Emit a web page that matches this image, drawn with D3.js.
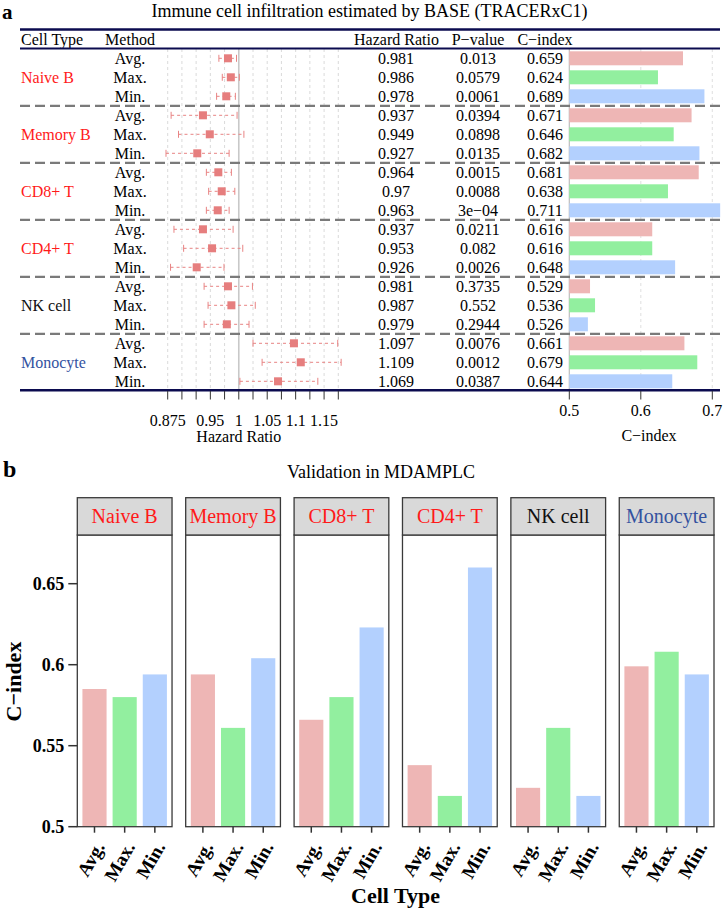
<!DOCTYPE html>
<html><head><meta charset="utf-8">
<script src="https://cdn.jsdelivr.net/npm/d3@7"></script>
<style>body{margin:0;background:#fff} svg text{font-family:"Liberation Serif","DejaVu Serif","Times New Roman",serif}</style>
</head><body><svg id="c" width="725" height="912" font-family="Liberation Serif, DejaVu Serif, serif"></svg>
<script>
// ---------- DATA ----------
const cellTypes = ["Naive B","Memory B","CD8+ T","CD4+ T","NK cell","Monocyte"];
const methods = ["Avg.","Max.","Min."];
const hazardRatio = [0.981,0.986,0.978, 0.937,0.949,0.927, 0.964,0.97,0.963, 0.937,0.953,0.926, 0.981,0.987,0.979, 1.097,1.109,1.069];
const hrLower = [0.965,0.971,0.961, 0.881,0.894,0.872, 0.943,0.947,0.943, 0.886,0.903,0.880, 0.939,0.946,0.939, 1.025,1.041,1.002];
const hrUpper = [0.996,1.001,0.994, 0.997,1.009,0.983, 0.987,0.993,0.983, 0.990,1.007,0.974, 1.024,1.029,1.018, 1.174,1.180,1.139];
const pValue = ["0.013","0.0579","0.0061","0.0394","0.0898","0.0135","0.0015","0.0088","3e\u221204","0.0211","0.082","0.0026","0.3735","0.552","0.2944","0.0076","0.0012","0.0387"];
const cIndexTrain = [0.659,0.624,0.689, 0.671,0.646,0.682, 0.681,0.638,0.711, 0.616,0.616,0.648, 0.529,0.536,0.526, 0.661,0.679,0.644];
const cIndexValid = [0.585,0.580,0.594, 0.594,0.561,0.604, 0.566,0.580,0.623, 0.538,0.519,0.660, 0.524,0.561,0.519, 0.599,0.608,0.594];
const hrTicks = [0.875,0.9,0.925,0.95,0.975,1,1.025,1.05,1.075,1.1,1.125,1.15,1.175];
const hrTickLabels = [0.875,0.95,1,1.05,1.1,1.15];
const cTicks = [0.5,0.6,0.7];
const validTicks = [0.5,0.55,0.6,0.65];

// ---------- STYLE ----------
const labelColor = {"Naive B":"#FF1A1A","Memory B":"#FF1A1A","CD8+ T":"#FF1A1A","CD4+ T":"#FF1A1A","NK cell":"#111","Monocyte":"#34529F"};
const methodFill = {"Avg.":"#EEB6B5","Max.":"#92EF9F","Min.":"#B3D0FE"};
const navy = "#0B0B4F";

const svg = d3.select("#c");
const fmtHR = d => String(d);

// ---------- PANEL A ----------
svg.append("text").attr("x",2).attr("y",19).attr("font-weight","bold").attr("font-size",21).text("a");
svg.append("text").attr("x",369.5).attr("y",16.5).attr("text-anchor","middle").attr("font-size",18)
  .text("Immune cell infiltration estimated by BASE (TRACERxC1)");

const nRows = cellTypes.length*methods.length;
const yRow = d3.scaleBand().domain(d3.range(nRows)).range([48.8, 390.8]);
const rc = i => yRow(i) + yRow.bandwidth()/2;
const xHR = d3.scaleLinear().domain([0.875,1.175]).range([167.7,338.3]);
const xC = d3.scaleLinear().domain([0.5,0.7]).range([569.3,712.3]);

const gA = svg.append("g");
gA.selectAll("line.hg").data(hrTicks.filter(t=>t!==1)).join("line")
  .attr("x1",d=>xHR(d)).attr("x2",d=>xHR(d)).attr("y1",49).attr("y2",390)
  .attr("stroke","#d0d0d0").attr("stroke-width",0.8).attr("stroke-dasharray","3,3");
gA.append("line").attr("x1",xHR(1)).attr("x2",xHR(1)).attr("y1",49).attr("y2",390)
  .attr("stroke","#c8c8c8").attr("stroke-width",1.6);
gA.selectAll("line.cg").data(cTicks.slice(1)).join("line")
  .attr("x1",d=>xC(d)).attr("x2",d=>xC(d)).attr("y1",49).attr("y2",390)
  .attr("stroke","#d8d8d8").attr("stroke-width",0.8).attr("stroke-dasharray","3,3");
gA.append("line").attr("x1",xC(0.5)).attr("x2",xC(0.5)).attr("y1",49).attr("y2",390)
  .attr("stroke","#bdbdbd").attr("stroke-width",1.2);

const hdrY = 45;
[["Cell Type",21,"start"],["Method",130,"middle"],["Hazard Ratio",396.5,"middle"],["P\u2212value",478,"middle"],["C\u2212index",545,"middle"]]
  .forEach(([t,x,a])=>gA.append("text").attr("x",x).attr("y",hdrY).attr("text-anchor",a).attr("font-size",16).text(t));

const rows = d3.range(nRows).map(i=>({i, g:Math.floor(i/3), m:methods[i%3], hr:hazardRatio[i], lo:hrLower[i], hi:hrUpper[i], p:pValue[i], c:cIndexTrain[i]}));

gA.selectAll("rect.cb").data(rows).join("rect")
  .attr("x",xC(0.5)).attr("y",d=>rc(d.i)-7).attr("height",14)
  .attr("width",d=>xC(d.c)-xC(0.5)).attr("fill",d=>methodFill[d.m]);

gA.selectAll("line.ci").data(rows).join("line")
  .attr("x1",d=>xHR(d.lo)).attr("x2",d=>xHR(d.hi)).attr("y1",d=>rc(d.i)).attr("y2",d=>rc(d.i))
  .attr("stroke","#E88484").attr("stroke-width",1).attr("stroke-dasharray","3,3");
["lo","hi"].forEach(k=>{
  gA.selectAll("line.cap"+k).data(rows).join("line")
    .attr("x1",d=>xHR(d[k])).attr("x2",d=>xHR(d[k])).attr("y1",d=>rc(d.i)-3.5).attr("y2",d=>rc(d.i)+3.5)
    .attr("stroke","#E88484").attr("stroke-width",1);
});
gA.selectAll("rect.pt").data(rows).join("rect")
  .attr("x",d=>xHR(d.hr)-4).attr("y",d=>rc(d.i)-4).attr("width",8).attr("height",8)
  .attr("fill","#E67E7E");

gA.selectAll("text.me").data(rows).join("text").attr("x",130).attr("y",d=>rc(d.i)+5.8)
  .attr("text-anchor","middle").attr("font-size",16).text(d=>d.m);
gA.selectAll("text.hr").data(rows).join("text").attr("x",396).attr("y",d=>rc(d.i)+5.8)
  .attr("text-anchor","middle").attr("font-size",16).text(d=>fmtHR(d.hr));
gA.selectAll("text.pv").data(rows).join("text").attr("x",478).attr("y",d=>rc(d.i)+5.8)
  .attr("text-anchor","middle").attr("font-size",16).text(d=>d.p);
gA.selectAll("text.ci").data(rows).join("text").attr("x",545).attr("y",d=>rc(d.i)+5.8)
  .attr("text-anchor","middle").attr("font-size",16).text(d=>String(d.c));
gA.selectAll("text.ct").data(cellTypes).join("text").attr("x",21).attr("y",(d,g)=>rc(g*3+1)+5.8)
  .attr("font-size",16).attr("fill",d=>labelColor[d]).text(d=>d);

gA.selectAll("line.sep").data(d3.range(1,cellTypes.length)).join("line")
  .attr("x1",20).attr("x2",720).attr("y1",g=>yRow(g*3)).attr("y2",g=>yRow(g*3))
  .attr("stroke","#7a7a7a").attr("stroke-width",2.2).attr("stroke-dasharray","10,5");

gA.append("line").attr("x1",20).attr("x2",720).attr("y1",29.5).attr("y2",29.5).attr("stroke",navy).attr("stroke-width",2.6);
gA.append("line").attr("x1",20).attr("x2",720).attr("y1",48.5).attr("y2",48.5).attr("stroke",navy).attr("stroke-width",2);
gA.append("line").attr("x1",20).attr("x2",720).attr("y1",390.3).attr("y2",390.3).attr("stroke",navy).attr("stroke-width",2.6);

gA.selectAll("line.ht").data(hrTicks).join("line")
  .attr("x1",d=>xHR(d)).attr("x2",d=>xHR(d)).attr("y1",391).attr("y2",399.5)
  .attr("stroke","#333").attr("stroke-width",1);
gA.selectAll("text.htl").data(hrTickLabels).join("text")
  .attr("x",d=>xHR(d)).attr("y",425.5).attr("text-anchor","middle").attr("font-size",16).text(d=>String(d));
gA.append("text").attr("x",xHR(1)).attr("y",442).attr("text-anchor","middle").attr("font-size",16).text("Hazard Ratio");
gA.selectAll("line.ct2").data(cTicks).join("line")
  .attr("x1",d=>xC(d)).attr("x2",d=>xC(d)).attr("y1",391).attr("y2",399.5)
  .attr("stroke","#333").attr("stroke-width",1);
gA.selectAll("text.ctl").data(cTicks).join("text")
  .attr("x",d=>xC(d)).attr("y",415.5).attr("text-anchor","middle").attr("font-size",16).text(d=>String(d));
gA.append("text").attr("x",649).attr("y",440.5).attr("text-anchor","middle").attr("font-size",16).text("C\u2212index");

// ---------- PANEL B ----------
svg.append("text").attr("x",3).attr("y",477).attr("font-weight","bold").attr("font-size",24).text("b");
svg.append("text").attr("x",381).attr("y",478).attr("text-anchor","middle").attr("font-size",18).text("Validation in MDAMPLC");

const px = d3.scaleBand().domain(cellTypes).range([77.3,714]).paddingInner(0.126).paddingOuter(0);
const bw = px.bandwidth();
const mx = d3.scalePoint().domain(methods).range([0,bw]).padding(0.57);
const barW = mx.step()*0.8;
const yV = d3.scaleLinear().domain([0.5,0.65]).range([826.7,583.7]);
const stripTop = 497.7, stripBot = 535, panelBot = yV(0.5);

cellTypes.forEach((ct,g)=>{
  const gp = svg.append("g").attr("transform",`translate(${px(ct)},0)`);
  const vals = methods.map((m,k)=>({m, v:cIndexValid[g*3+k]}));
  gp.selectAll("rect.b").data(vals).join("rect")
    .attr("x",d=>mx(d.m)-barW/2).attr("width",barW)
    .attr("y",d=>yV(d.v)).attr("height",d=>panelBot-yV(d.v))
    .attr("fill",d=>methodFill[d.m]);
  gp.append("rect").attr("x",0).attr("y",stripBot).attr("width",bw).attr("height",panelBot-stripBot)
    .attr("fill","none").attr("stroke","#3a3a3a").attr("stroke-width",1.3);
  gp.append("rect").attr("x",0).attr("y",stripTop).attr("width",bw).attr("height",stripBot-stripTop)
    .attr("fill","#D9D9D9").attr("stroke","#3a3a3a").attr("stroke-width",1.3);
  gp.append("text").attr("x",bw/2).attr("y",523).attr("text-anchor","middle").attr("font-size",20)
    .attr("fill",labelColor[ct]).text(ct);
  gp.selectAll("line.t").data(methods).join("line")
    .attr("x1",d=>mx(d)).attr("x2",d=>mx(d)).attr("y1",panelBot).attr("y2",panelBot+6)
    .attr("stroke","#333").attr("stroke-width",1.5);
  gp.selectAll("text.t").data(methods).join("text")
    .attr("transform",d=>`translate(${mx(d)+11},${panelBot+20}) rotate(-60)`)
    .attr("text-anchor","end").attr("font-size",19).attr("font-weight","bold").text(d=>d);
});
const ax0 = px(cellTypes[0]);
svg.selectAll("line.yt").data(validTicks).join("line")
  .attr("x1",ax0-9).attr("x2",ax0).attr("y1",d=>yV(d)).attr("y2",d=>yV(d))
  .attr("stroke","#333").attr("stroke-width",1.5);
svg.selectAll("text.ytl").data(validTicks).join("text")
  .attr("x",ax0-13).attr("y",d=>yV(d)+6).attr("text-anchor","end").attr("font-size",18).attr("font-weight","bold")
  .text(d=>String(d));
svg.append("text").attr("transform",`translate(21,681.5) rotate(-90)`).attr("text-anchor","middle")
  .attr("font-size",22).attr("font-weight","bold").text("C\u2212index");
svg.append("text").attr("x",395.6).attr("y",903).attr("text-anchor","middle")
  .attr("font-size",22).attr("font-weight","bold").text("Cell Type");
</script></body></html>
